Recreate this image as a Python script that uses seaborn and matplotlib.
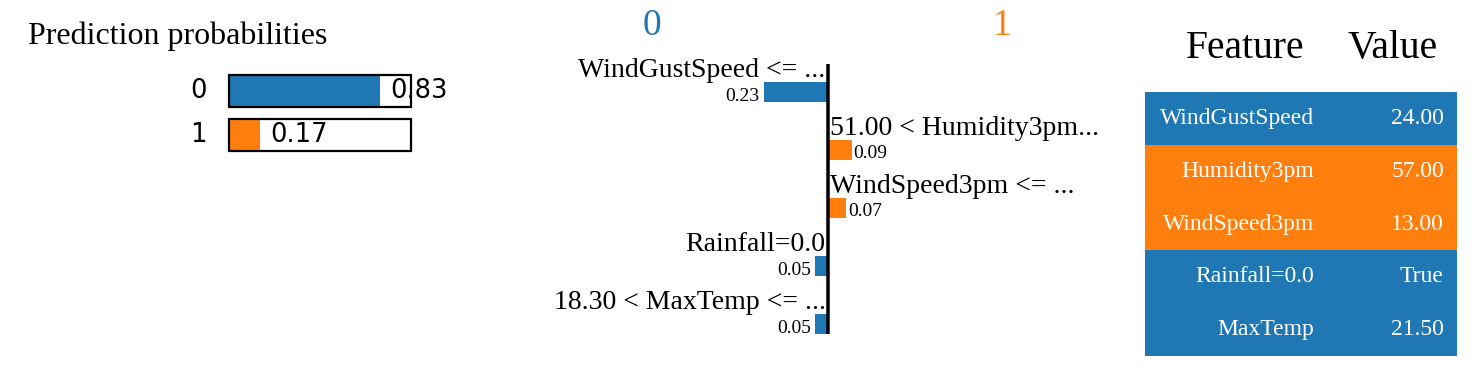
import numpy as np
import pandas as pd
import matplotlib
matplotlib.use("Agg")
import matplotlib.pyplot as plt
import seaborn as sns

# ---------------- data ----------------
class_names = ["0", "1"]
pred_probs = [0.83, 0.17]

exp_labels = ["WindGustSpeed <= ...", "51.00 < Humidity3pm...", "WindSpeed3pm <= ...",
              "Rainfall=0.0", "18.30 < MaxTemp <= ..."]
exp_weights = [-0.23, 0.087, 0.066, -0.046, -0.046]

table_features = ["WindGustSpeed", "Humidity3pm", "WindSpeed3pm", "Rainfall=0.0", "MaxTemp"]
table_values = ["24.00", "57.00", "13.00", "True", "21.50"]

BLUE = "#1f77b4"
ORANGE = "#ff7f0e"
W, H = 1476, 366
PT = 0.72  # points per pixel at dpi 100

sns.set_theme(style="white")
plt.rcParams['font.family'] = ['Liberation Serif', 'DejaVu Serif']
plt.rcParams['text.color'] = 'black'

fig = plt.figure(figsize=(W / 100, H / 100), dpi=100)
fig.patch.set_facecolor("white")


def px_axes(x0, y0, x1, y1):
    ax = fig.add_axes([x0 / W, 1 - y1 / H, (x1 - x0) / W, (y1 - y0) / H])
    ax.set_facecolor("none")
    return ax


# ---------------- panel 1: prediction probabilities ----------------
fig.text(28 / W, 1 - 44 / H, "Prediction probabilities", fontsize=23,
         ha="left", va="baseline", color="black")

ax1 = px_axes(229, 75, 411, 151)
bw1 = 32 / 44
df_p = pd.DataFrame({"cls": class_names, "prob": pred_probs})
df_p["full"] = 1.0
sns.barplot(data=df_p, x="prob", y="cls", hue="cls", palette=[BLUE, ORANGE],
            orient="h", width=bw1, legend=False, dodge=False, linewidth=0,
            saturation=1, ax=ax1)
sns.barplot(data=df_p, x="full", y="cls", orient="h", width=bw1, fill=False,
            color="black", linewidth=1.6, saturation=1, ax=ax1)
ax1.set_xlim(0, 1)
ax1.set_ylim(1 + bw1 / 2, -bw1 / 2)
ax1.axis("off")
for p in ax1.patches:
    p.set_clip_on(False)
for i, (c, p) in enumerate(zip(class_names, pred_probs)):
    ax1.annotate(c, xy=(0, i), xytext=(-22 * PT, 0), textcoords="offset points",
                 ha="right", va="center", fontsize=18.5, family="DejaVu Sans",
                 color="black")
    ax1.annotate(f"{p:.2f}", xy=(p, i), xytext=(10 * PT, 0), textcoords="offset points",
                 ha="left", va="center", fontsize=18.5, family="DejaVu Sans",
                 color="black", annotation_clip=False)

# ---------------- panel 2: explanation bars ----------------
ZERO, SCALE, Y0, PITCH = 827.5, 278.0, 92.0, 58.0
ax2 = px_axes(548, 60, 1108, 340)
bw2 = 20 / PITCH
df_e = pd.DataFrame({"label": exp_labels, "weight": exp_weights})
df_e["cls"] = ["1" if w > 0 else "0" for w in exp_weights]
sns.barplot(data=df_e, x="weight", y="label", hue="cls",
            palette={"0": BLUE, "1": ORANGE}, orient="h", width=bw2,
            dodge=False, legend=False, linewidth=0, saturation=1, ax=ax2)
ax2.set_xlim((548 - ZERO) / SCALE, (1108 - ZERO) / SCALE)
ax2.set_ylim((340 - Y0) / PITCH, (60 - Y0) / PITCH)
ax2.axis("off")
ax2.vlines(0, (64 - Y0) / PITCH, (334 - Y0) / PITCH, color="black",
           lw=3.5 * PT, zorder=5)
for i, (lab, w) in enumerate(zip(exp_labels, exp_weights)):
    top = i - bw2 / 2
    bot = i + bw2 / 2
    if w < 0:
        ax2.annotate(lab, xy=(0, top), xytext=(-2 * PT, 5 * PT), textcoords="offset points",
                     ha="right", va="baseline", fontsize=20, color="black",
                     annotation_clip=False)
        ax2.annotate(f"{abs(w):.2f}", xy=(w, bot), xytext=(-4 * PT, 1 * PT),
                     textcoords="offset points", ha="right", va="baseline",
                     fontsize=14, color="black", annotation_clip=False)
    else:
        ax2.annotate(lab, xy=(0, top), xytext=(3 * PT, 5 * PT), textcoords="offset points",
                     ha="left", va="baseline", fontsize=20, color="black",
                     annotation_clip=False)
        ax2.annotate(f"{abs(w):.2f}", xy=(w, bot), xytext=(2 * PT, 2 * PT),
                     textcoords="offset points", ha="left", va="baseline",
                     fontsize=14, color="black", annotation_clip=False)
head_y = (35 - Y0) / PITCH
ax2.annotate(class_names[0], xy=(-176 / SCALE, head_y), ha="center", va="baseline",
             fontsize=27, color=BLUE, annotation_clip=False)
ax2.annotate(class_names[1], xy=(175 / SCALE, head_y), ha="center", va="baseline",
             fontsize=27, color=ORANGE, annotation_clip=False)

# ---------------- panel 3: feature table ----------------
ax3 = px_axes(1145, 92, 1457, 356)
df_t = pd.DataFrame({"feature": table_features, "value": table_values})
df_t["cls"] = df_e["cls"].values
df_t["full"] = 1.0
sns.barplot(data=df_t, x="full", y="feature", hue="cls",
            palette={"0": BLUE, "1": ORANGE}, orient="h", width=1.0,
            dodge=False, legend=False, linewidth=0, saturation=1, ax=ax3)
ax3.set_xlim(0, 1)
ax3.set_ylim(4.5, -0.5)
ax3.axis("off")
for i, (f, v) in enumerate(zip(table_features, table_values)):
    ax3.annotate(f, xy=(0.542, i), xytext=(0, -5.6 * PT), textcoords="offset points",
                 ha="right", va="baseline", fontsize=17, color="white")
    ax3.annotate(v, xy=(0.958, i), xytext=(0, -5.6 * PT), textcoords="offset points",
                 ha="right", va="baseline", fontsize=17, color="white")
hy = (58 - 118.4) / 52.8
ax3.annotate("Feature", xy=(0.3205, hy), ha="center", va="baseline", fontsize=28.5,
             color="black", annotation_clip=False)
ax3.annotate("Value", xy=(0.795, hy), ha="center", va="baseline", fontsize=28.5,
             color="black", annotation_clip=False)

fig.savefig("out.png", dpi=100, facecolor="white")
